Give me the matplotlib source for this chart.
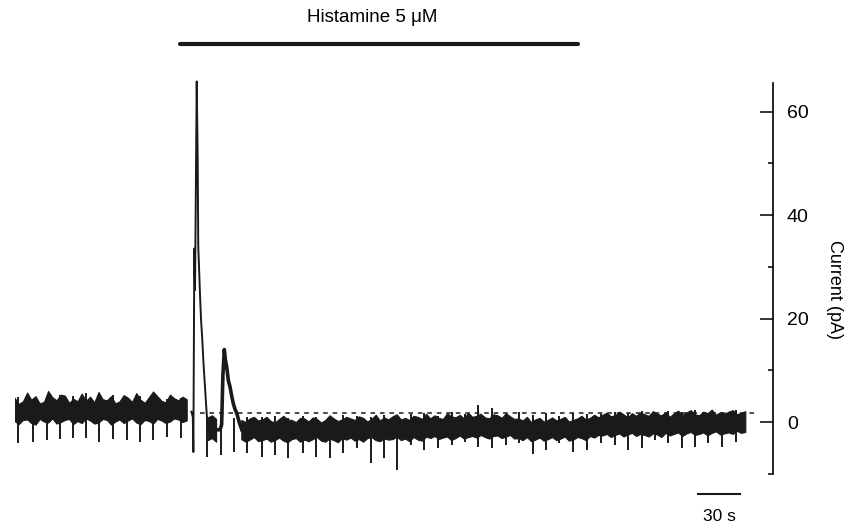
import numpy as np
import matplotlib.pyplot as plt

plt.rcParams['font.family'] = ['Liberation Sans', 'DejaVu Sans']
INK = '#1a1a1a'

# ---- data (time in s, current in pA) ----
band_step = 3.0  # noise envelope sampled every 3 s from t = 0
band_top = [
    4.6, 3.4, 3.9, 5.6, 4.2, 4.9, 3.5, 3.8, 5.9, 4.7,
    4.1, 5.2, 5.0, 3.6, 4.4, 3.9, 5.4, 4.0, 4.8, 3.7,
    5.7, 4.3, 4.1, 4.9, 3.5, 3.9, 5.1, 4.6, 3.8, 5.5,
    4.2, 3.6, 4.7, 5.8, 4.9, 4.0, 3.7, 5.2, 4.5, 4.1,
    4.8, 4.3, np.nan, np.nan, np.nan, np.nan, 0.8, 1.2, 0.5, np.nan,
    np.nan, np.nan, np.nan, np.nan, 0.3, -0.1, 0.6, 0.9, 0.2, 0.4,
    0.9, 0.1, -0.2, 0.5, 1.1, 0.4, 0.3, -0.1, 0.7, 0.6,
    0.0, 0.8, 0.5, -0.2, 0.3, 1.2, 0.6, 0.1, 0.4, 0.9,
    0.6, 0.3, 1.0, 0.7, 0.0, 0.5, 1.3, 0.2, 0.8, 0.4,
    1.0, 1.4, 0.4, 0.7, 0.3, 1.1, 0.9, 0.5, 1.5, 0.6,
    1.2, 0.7, 0.5, 1.6, 1.0, 0.8, 1.3, 0.6, 1.7, 0.9,
    1.1, 1.5, 0.8, 0.6, 1.4, 1.2, 0.7, 1.6, 1.0, 0.5,
    0.6, 0.2, 0.9, -0.1, 0.4, 0.7, 0.0, 0.3, 0.8, 0.2,
    0.5, 0.9, 0.0, 0.3, 0.6, 1.1, 0.4, 0.7, 1.3, 0.8,
    1.3, 1.7, 1.0, 1.2, 1.9, 1.4, 0.8, 1.6, 1.1, 1.8,
    1.4, 1.1, 2.0, 1.5, 1.2, 1.8, 0.9, 1.6, 2.1, 1.3,
    1.7, 2.2, 1.4, 1.2, 1.9, 1.6, 2.3, 1.3, 1.8, 1.5,
    1.9, 2.2, 1.4, 1.7, 2.0,
]
band_bottom = [
    0.1, -0.5, 0.3, 0.4, -0.3, -0.6, 0.5, 0.0, -0.2, 0.6,
    -0.4, -0.1, 0.3, 0.5, -0.5, 0.1, -0.3, 0.6, 0.2, -0.4,
    -0.2, 0.5, 0.3, -0.6, 0.0, 0.4, -0.3, 0.2, 0.6, -0.2,
    -0.5, 0.3, 0.1, -0.4, 0.5, 0.2, -0.3, 0.0, 0.6, 0.4,
    -0.1, 0.2, np.nan, np.nan, np.nan, np.nan, -3.6, -3.2, -3.9, np.nan,
    np.nan, np.nan, np.nan, np.nan, -3.4, -3.9, -3.5, -3.0, -3.8, -3.6,
    -3.3, -3.9, -3.6, -3.1, -3.7, -4.0, -3.4, -3.2, -3.9, -3.5,
    -3.8, -3.4, -3.0, -3.7, -3.9, -3.3, -3.6, -4.0, -3.2, -3.5,
    -3.1, -3.7, -3.4, -3.9, -3.2, -3.0, -3.6, -3.8, -3.3, -3.5,
    -3.4, -2.9, -3.6, -3.3, -3.8, -3.0, -3.5, -3.7, -2.9, -3.2,
    -2.8, -3.4, -3.1, -2.9, -3.6, -3.2, -2.7, -3.3, -3.0, -2.8,
    -3.1, -2.6, -3.0, -3.3, -2.8, -2.7, -3.2, -2.9, -2.6, -3.3,
    -3.2, -3.6, -3.0, -3.8, -3.5, -3.1, -3.7, -3.4, -3.0, -3.6,
    -3.3, -2.9, -3.7, -3.5, -3.0, -3.2, -3.6, -2.8, -3.1, -2.6,
    -2.7, -2.4, -3.0, -2.6, -2.3, -2.9, -2.5, -2.2, -2.8, -2.4,
    -2.6, -2.9, -2.3, -2.5, -3.0, -2.2, -2.7, -2.4, -2.1, -2.8,
    -2.3, -2.0, -2.6, -2.4, -2.1, -2.7, -2.2, -1.9, -2.5, -2.3,
    -2.1, -2.4, -1.8, -2.2, -2.0,
]

# main histamine transient
peak_t = [126.0, 127.0, 127.4, 128.1, 128.6, 129.8, 130.5, 130.9, 131.6,
          132.1, 132.9, 133.8, 134.5, 135.7, 136.9, 137.6, 138.0]
peak_i = [2.0, 1.0, -5.8, 33.5, 25.5, 65.8, 50.6, 33.9, 28.8,
          24.9, 19.7, 15.8, 12.0, 6.8, 1.7, -1.0, -2.0]

# secondary bump
bump_t = [144.0, 146.5, 147.6, 148.5, 149.5, 150.3, 151.2, 152.4, 153.6,
          154.8, 155.9, 157.1, 158.4, 159.6, 160.7, 162.0]
bump_i = [-1.5, -1.5, -0.5, 9.0, 14.0, 12.0, 10.7, 8.0, 6.8,
          5.0, 3.6, 2.5, 1.7, 0.5, -0.5, -1.5]

# periodic test-pulse artefacts
spike_t = [2.4, 12.6, 22.6, 32.1, 41.2, 50.7, 60.2, 69.8, 79.8, 89.3, 98.8,
           108.8, 118.4, 127.4, 136.9, 146.9, 156.4, 165.9, 176.2, 185.7, 195.2, 205.5,
           215.0, 225.0, 234.5, 244.1, 254.1, 263.6, 273.1, 282.6, 292.1, 302.4, 311.9,
           321.4, 330.9, 340.5, 350.7, 360.2, 369.8, 379.3, 388.8, 398.8, 408.4, 418.4,
           428.6, 438.1, 447.6, 457.1, 466.6, 476.2, 485.7, 495.2, 504.8, 515.0]
spike_min = [-4.1, -3.9, -3.5, -3.3, -3.1, -3.1, -3.9, -3.3, -3.5, -3.9, -3.5,
             -2.9, -3.1, -5.8, -6.8, -6.4, -5.8, -6.0, -6.8, -6.4, -7.0, -6.0,
             -6.7, -7.0, -5.9, -5.0, -8.0, -7.0, -9.3, -4.4, -5.4, -5.0, -4.4,
             -3.8, -4.8, -5.1, -4.4, -4.1, -6.1, -5.4, -4.1, -5.7, -5.4, -4.1,
             -4.4, -5.4, -5.1, -3.5, -4.1, -5.1, -4.8, -4.1, -4.8, -3.8]
spike_max = [4.8, 4.5, 4.9, 5.2, 5.0, 5.6, 4.7, 5.3, 4.6, 5.1, 4.8,
             4.4, 4.6, 1.0, 1.0, 1.2, 0.8, 1.0, 0.9, 1.2, 0.8, 1.1,
             1.0, 0.8, 1.3, 1.1, 0.9, 1.4, 1.0, 1.6, 1.8, 1.2, 2.0,
             1.5, 3.3, 2.7, 1.6, 1.9, 1.4, 1.7, 1.2, 1.8, 1.5, 1.6,
             2.0, 1.8, 2.2, 1.7, 2.1, 1.9, 2.3, 1.8, 2.0, 2.3]

baseline_level = 1.7
baseline_span = (132.1, 530.7)
histamine_on, histamine_off = 117.9, 402.0
scale_len = 30.0

yticks_major = [0, 20, 40, 60]
yticks_minor = [-10, 10, 30, 50]

# ---- figure ----
fig = plt.figure(figsize=(8.51, 5.28), dpi=100)
ax = fig.add_axes([15 / 851, 28 / 528, 758 / 851, 470 / 528])
ax.set_xlim(0, 541.43)
ax.set_ylim(-15.07, 75.75)

band_t = np.arange(len(band_top)) * band_step
ax.fill_between(band_t, band_bottom, band_top, color=INK, linewidth=0.8, edgecolor=INK)
ax.vlines(spike_t, spike_min, spike_max, color=INK, linewidth=1.4)
ax.plot(peak_t, peak_i, color=INK, linewidth=1.4)
ax.plot(bump_t, bump_i, color=INK, linewidth=2.6, solid_joinstyle='round')

ax.plot(baseline_span, [baseline_level, baseline_level], color=INK,
        linewidth=1.1, linestyle=(0, (3, 3.2)), clip_on=False)

# histamine application bar
ax.plot([histamine_on, histamine_off], [73.0, 73.0], color=INK, linewidth=3,
        solid_capstyle='round', clip_on=False)
ax.text(255, 78.1, 'Histamine 5 μM', ha='center', va='center', fontsize=13.5,
        clip_on=False)

# 30 s scale bar
ax.plot([487.9, 487.9 + scale_len], [-13.9, -13.9], color=INK, linewidth=1.5, clip_on=False)
ax.text(487.9 + scale_len / 2, -18.2, '30 s', ha='center', va='center', fontsize=12.5)

# right-hand current axis
for side in ['top', 'bottom', 'left']:
    ax.spines[side].set_visible(False)
ax.spines['right'].set_bounds(-10, 65.5)
ax.spines['right'].set_linewidth(1.2)
ax.xaxis.set_visible(False)
ax.yaxis.tick_right()
ax.set_yticks(yticks_major)
ax.set_yticks(yticks_minor, minor=True)
ax.tick_params(axis='y', which='major', direction='in', length=9.5, width=1.1,
               pad=10, labelsize=14)
ax.tick_params(axis='y', which='minor', direction='in', length=3.8, width=1.1)
fig.text(834 / 851, 1 - 290 / 528, 'Current (pA)', rotation=270,
         ha='center', va='center', fontsize=13)

plt.savefig('out.png', dpi=100)
